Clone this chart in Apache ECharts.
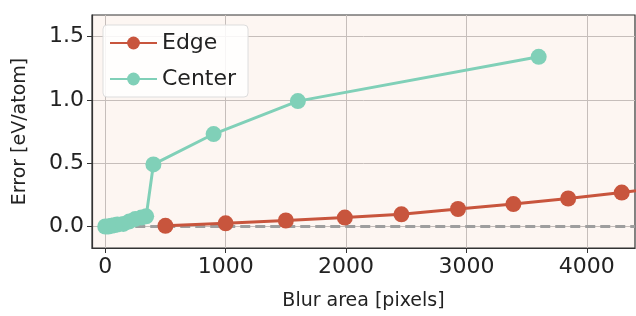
<!DOCTYPE html>
<html>
<head>
<meta charset="utf-8">
<script src="https://cdn.jsdelivr.net/npm/echarts@6/dist/echarts.min.js"></script>
<style>
  html, body { margin: 0; padding: 0; background: #fff; }
  #chart { width: 636px; height: 316px; }
</style>
</head>
<body>
<div id="chart"></div>
<script>
// data
const edgeX = [500, 1000, 1500, 1990, 2460, 2930, 3390, 3845, 4290, 4750];
const edgeY = [0.005, 0.025, 0.047, 0.070, 0.096, 0.138, 0.177, 0.221, 0.268, 0.32];
const centerX = [0, 25, 50, 75, 100, 150, 200, 250, 300, 340, 400, 900, 1600, 3600];
const centerY = [0.0, 0.0, 0.005, 0.01, 0.015, 0.02, 0.04, 0.06, 0.07, 0.08, 0.49, 0.73, 0.99, 1.34];
const xTicks = [0, 1000, 2000, 3000, 4000];
const yTicks = [0, 0.5, 1.0, 1.5];

const EDGE = '#c8553d';
const CENTER = '#80d0b8';
const FONT = 'DejaVu Sans';

const chart = echarts.init(document.getElementById('chart'));

const pairs = (xs, ys) => xs.map((x, i) => [x, ys[i]]);

chart.setOption({
    animation: false,
    textStyle: { fontFamily: FONT },
    grid: {
        left: 92, right: 1, top: 15, bottom: 66,
        show: true, backgroundColor: '#fdf6f2',
        borderColor: '#333', borderWidth: 1.2
    },
    legend: {
        data: ['Edge', 'Center'],
        orient: 'vertical',
        left: 103, top: 25,
        itemWidth: 47, itemHeight: 16, itemGap: 14,
        padding: [7, 12, 7, 6],
        backgroundColor: 'rgba(255,255,255,0.85)',
        borderColor: '#ddd', borderWidth: 1, borderRadius: 4,
        textStyle: { fontFamily: FONT, fontSize: 22, color: '#222' }
    },
    xAxis: {
        type: 'value', min: -110, max: 4400,
        name: 'Blur area [pixels]', nameLocation: 'middle', nameGap: 44,
        nameTextStyle: { fontFamily: FONT, fontSize: 19, color: '#222' },
        axisLine: { onZero: false, lineStyle: { color: '#333', width: 1.2 } },
        axisTick: { customValues: xTicks, length: 5, lineStyle: { color: '#333' } },
        axisLabel: { customValues: xTicks, fontSize: 22, color: '#222', margin: 8,
            formatter: v => String(v) },
        splitLine: { show: true, lineStyle: { color: '#c6bebb', width: 1 } }
    },
    yAxis: {
        type: 'value', min: -0.17, max: 1.67,
        name: 'Error [eV/atom]', nameLocation: 'middle', nameGap: 62,
        nameTextStyle: { fontFamily: FONT, fontSize: 19, color: '#222' },
        axisLine: { show: true, onZero: false, lineStyle: { color: '#333', width: 1.2 } },
        axisTick: { show: true, customValues: yTicks, length: 5, lineStyle: { color: '#333' } },
        axisLabel: { customValues: yTicks, fontSize: 22, color: '#222', margin: 8,
            formatter: v => v.toFixed(1) },
        splitLine: { show: true, lineStyle: { color: '#c6bebb', width: 1 } }
    },
    series: [
        {
            name: 'zero', type: 'line', z: 1, silent: true,
            data: [[0, 0], [4400, 0]],
            symbol: 'none',
            lineStyle: { color: '#9e9e9e', width: 3, type: [10, 5] }
        },
        {
            name: 'Edge', type: 'line', z: 3, clip: true,
            data: pairs(edgeX, edgeY),
            symbol: 'circle', symbolSize: 16,
            itemStyle: { color: EDGE },
            lineStyle: { color: EDGE, width: 3 }
        },
        {
            name: 'Center', type: 'line', z: 2, clip: true,
            data: pairs(centerX, centerY),
            symbol: 'circle', symbolSize: 16,
            itemStyle: { color: CENTER },
            lineStyle: { color: CENTER, width: 3 }
        }
    ]
});
</script>
</body>
</html>
